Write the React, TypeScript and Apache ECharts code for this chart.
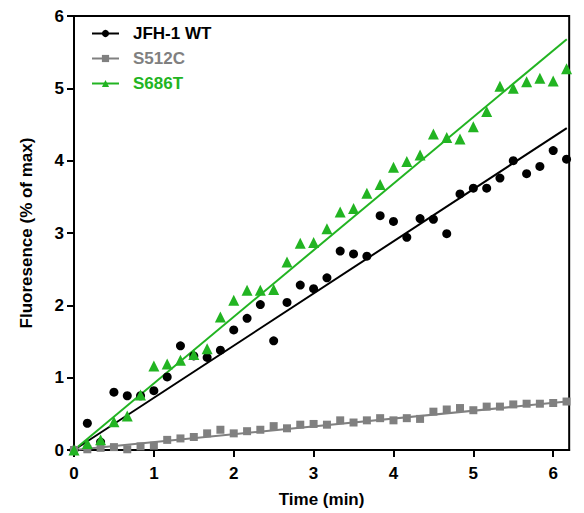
import React, { useEffect, useRef } from "react";
import * as echarts from "echarts";

const times = [0, 0.167, 0.333, 0.5, 0.667, 0.833, 1, 1.167, 1.333, 1.5, 1.667, 1.833, 2, 2.167, 2.333, 2.5, 2.667, 2.833, 3, 3.167, 3.333, 3.5, 3.667, 3.833, 4, 4.167, 4.333, 4.5, 4.667, 4.833, 5, 5.167, 5.333, 5.5, 5.667, 5.833, 6, 6.167];
const wt = [0, 0.37, 0.11, 0.8, 0.75, 0.75, 0.82, 1.01, 1.44, 1.3, 1.28, 1.38, 1.66, 1.82, 2.01, 1.51, 2.04, 2.28, 2.23, 2.38, 2.75, 2.71, 2.68, 3.24, 3.16, 2.94, 3.2, 3.19, 2.99, 3.54, 3.62, 3.62, 3.76, 4.0, 3.82, 3.92, 4.14, 4.02];
const s512c = [0, 0.01, 0.03, 0.04, 0.01, 0.05, 0.06, 0.14, 0.16, 0.18, 0.23, 0.28, 0.23, 0.26, 0.28, 0.33, 0.3, 0.35, 0.36, 0.35, 0.41, 0.38, 0.41, 0.44, 0.41, 0.44, 0.43, 0.53, 0.56, 0.58, 0.55, 0.6, 0.6, 0.63, 0.64, 0.64, 0.65, 0.67];
const s686t = [0, 0.09, 0.14, 0.39, 0.47, 0.76, 1.16, 1.19, 1.24, 1.32, 1.4, 1.84, 2.07, 2.21, 2.21, 2.22, 2.6, 2.86, 2.87, 3.06, 3.29, 3.34, 3.55, 3.67, 3.91, 3.99, 4.08, 4.37, 4.32, 4.3, 4.47, 4.68, 5.03, 5.0, 5.09, 5.14, 5.1, 5.27];

const wtFit = [[0, 0], [6.17, 4.45]];
const s512cFit = [[0, 0], [6.17, 0.67]];
const s686tFit = [[0, 0], [6.17, 5.68]];

const names = ["JFH-1 WT", "S512C", "S686T"];
const colors = ["#000000", "#808080", "#22b422"];
const symbols = ["circle", "rect", "triangle"];
const symbolSizes = [9, 8, 11];

const FONT = "'Liberation Sans', Arial, sans-serif";

export default function App() {
  const ref = useRef<HTMLDivElement>(null);
  useEffect(() => {
    if (!ref.current) return;
    const chart = echarts.init(ref.current, null, { renderer: "svg" });
    const pts = [wt, s512c, s686t];
    const fits = [wtFit, s512cFit, s686tFit];
    const series: any[] = [];
    fits.forEach((f, i) => {
      series.push({
        type: "line",
        name: names[i] + " fit",
        data: f,
        showSymbol: false,
        lineStyle: { color: colors[i], width: 2 },
        z: 2,
        silent: true,
      });
    });
    pts.forEach((p, i) => {
      series.push({
        type: "line",
        name: names[i],
        data: times.map((t, k) => [t, p[k]]),
        symbol: symbols[i],
        symbolSize: symbolSizes[i],
        showSymbol: true,
        itemStyle: { color: colors[i] },
        lineStyle: { color: colors[i], width: 2, opacity: 0 },
        z: 3,
      });
    });
    chart.setOption({
      animation: false,
      textStyle: { fontFamily: FONT },
      grid: {
        left: 74,
        right: 3,
        top: 16,
        bottom: 62,
        show: true,
        borderColor: "#000",
        borderWidth: 2,
      },
      legend: {
        orient: "vertical",
        left: 86,
        top: 20,
        itemWidth: 27,
        itemHeight: 9,
        itemGap: 8,
        lineStyle: { width: 2, opacity: 1 },
        textStyle: { fontFamily: FONT, fontSize: 17, fontWeight: "bold", padding: [0, 0, 0, 9] },
        data: names.map((n, i) => ({
          name: n,
          textStyle: { color: colors[i] },
        })),
      },
      xAxis: {
        type: "value",
        min: 0,
        max: 6.2,
        interval: 1,
        name: "Time (min)",
        nameLocation: "middle",
        nameGap: 41,
        nameTextStyle: { fontFamily: FONT, fontSize: 17, fontWeight: "bold", color: "#000" },
        axisLine: { show: true, lineStyle: { color: "#000", width: 2 } },
        axisTick: { show: true, length: 7, lineStyle: { color: "#000", width: 2 } },
        axisLabel: { fontFamily: FONT, fontSize: 17, fontWeight: "bold", color: "#000", margin: 15 },
        splitLine: { show: false },
      },
      yAxis: {
        type: "value",
        min: 0,
        max: 6,
        interval: 1,
        name: "Fluoresence (% of max)",
        nameLocation: "middle",
        nameGap: 39,
        nameTextStyle: { fontFamily: FONT, fontSize: 17, fontWeight: "bold", color: "#000" },
        axisLine: { show: true, lineStyle: { color: "#000", width: 2 } },
        axisTick: { show: true, length: 7, lineStyle: { color: "#000", width: 2 } },
        axisLabel: { fontFamily: FONT, fontSize: 17, fontWeight: "bold", color: "#000", margin: 10 },
        splitLine: { show: false },
      },
      series,
    });
    return () => chart.dispose();
  }, []);
  return <div ref={ref} style={{ width: 584, height: 513, position: "absolute", left: 0, top: 0 }} />;
}
